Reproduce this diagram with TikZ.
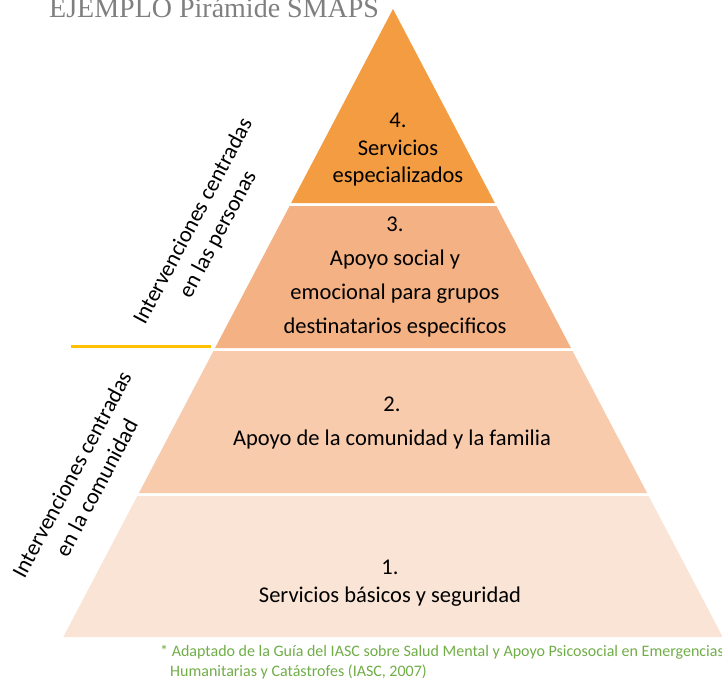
\documentclass[tikz,border=0pt]{standalone}
\usepackage{fontspec}
\setmainfont{Carlito}
\newfontfamily\titlefont{Liberation Serif}
\definecolor{nivelA}{HTML}{FAE4D5}
\definecolor{nivelB}{HTML}{F8CBAD}
\definecolor{nivelC}{HTML}{F4B183}
\definecolor{nivelD}{HTML}{F39C42}
\definecolor{divider}{HTML}{FFC000}
\definecolor{titlegray}{HTML}{7F7F7F}
\definecolor{notegreen}{HTML}{70AD47}

\begin{document}
\begin{tikzpicture}[x=1pt, y=-1pt,
    every node/.style={inner sep=0pt, text=black, align=center, font=\fontsize{22.5}{27.5}\selectfont},
    wide/.style={font=\fontsize{22.5}{34}\selectfont},
    side label/.style={rotate=62, font=\fontsize{22.5}{28}\selectfont},
    ]
  \useasboundingbox (0,0) rectangle (722,682);
  % the four levels of the pyramid
  \foreach \ya/\yb/\col in {9/203/nivelD, 206/348/nivelC, 351/493/nivelB, 496/637/nivelA}
    \fill[\col] ({393-0.525*(\ya-9)},\ya) -- ({393+0.525*(\ya-9)},\ya)
      -- ({393+0.525*(\yb-9)},\yb) -- ({393-0.525*(\yb-9)},\yb) -- cycle;

  \node (lvl4) at (398,150) {4.\\Servicios\\especializados};
  \node[wide] (lvl3) at (395,277) {3.\\Apoyo social y\\emocional para grupos\\destinatarios especificos};
  \node[wide] (lvl2) at (392,423) {2.\\Apoyo de la comunidad y la familia};
  \node (lvl1) at (390,583) {1.\\Servicios básicos y seguridad};

  \node[side label] (personas) at (206,228) {Intervenciones centradas\\en las personas};
  \node[side label] (comunidad) at (84,481) {Intervenciones centradas\\en la comunidad};
  \draw[divider, line width=3pt] (71,346.5) -- (211,346.5);

  \node[anchor=base west, text=titlegray, font=\titlefont\fontsize{28}{30}\selectfont] (title) at (49,18) {EJEMPLO Pirámide SMAPS};
  \node[anchor=north west, align=left, text=notegreen, font=\fontsize{16}{20}\selectfont] (nota) at (160,645)
    {* Adaptado de la Guía del IASC sobre Salud Mental y Apoyo Psicosocial en Emergencias\\\hspace*{10pt}Humanitarias y Catástrofes (IASC, 2007)};
\end{tikzpicture}
\end{document}
